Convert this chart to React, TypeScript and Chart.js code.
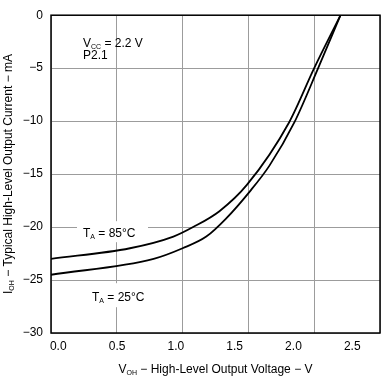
import React, { useEffect, useRef } from 'react';
import { Chart, registerables } from 'chart.js';

Chart.register(...registerables);

// Data (V_OH in volts, I_OH in mA)
const voltage85 = [0, 0.6, 0.93, 1.08, 1.28, 1.49, 1.81, 2.0, 2.2];
const current85 = [-23.0, -22.0, -20.9, -20.0, -18.5, -16.0, -10.1, -5.0, 0];
const voltage25 = [0, 0.78, 1.0, 1.18, 1.33, 1.51, 1.66, 1.85, 2.03, 2.2];
const current25 = [-24.5, -23.0, -22.0, -20.9, -19.2, -16.65, -14.2, -10.1, -5.0, 0];
const xTickLabels = ['0.0', '0.5', '1.0', '1.5', '2.0', '2.5'];
const xTickValues = [0, 0.5, 1.0, 1.5, 2.0, 2.5];
const yTickValues = [0, -5, -10, -15, -20, -25, -30];

const FONT = '"Liberation Sans", Arial, sans-serif';

type Part = [string, boolean];

function partsWidth(ctx: CanvasRenderingContext2D, parts: Part[]) {
  let w = 0;
  for (const [t, sub] of parts) {
    ctx.font = sub ? `7px ${FONT}` : `12px ${FONT}`;
    w += ctx.measureText(t).width;
  }
  return w;
}

function drawParts(ctx: CanvasRenderingContext2D, x: number, y: number, parts: Part[]) {
  let cx = x;
  ctx.textAlign = 'left';
  ctx.textBaseline = 'alphabetic';
  for (const [t, sub] of parts) {
    ctx.font = sub ? `7px ${FONT}` : `12px ${FONT}`;
    ctx.fillText(t, cx, sub ? y + 2 : y);
    cx += ctx.measureText(t).width;
  }
}

const annotationPlugin = {
  id: 'annotations',
  beforeDatasetsDraw(chart: any) {
    const { ctx, chartArea } = chart;
    const l = chartArea.left;
    const t = chartArea.top;
    ctx.save();
    ctx.fillStyle = '#ffffff';
    ctx.fillRect(l + 26, t + 206, 71, 21);
    ctx.fillRect(l + 26, t + 268, 82, 24);
    ctx.restore();
  },
  afterDraw(chart: any) {
    const { ctx, chartArea, height } = chart;
    const l = chartArea.left;
    const t = chartArea.top;
    ctx.save();
    ctx.fillStyle = '#000';
    drawParts(ctx, l + 32, t + 32, [['V', false], ['CC', true], [' = 2.2 V', false]]);
    drawParts(ctx, l + 32, t + 44, [['P2.1', false]]);
    drawParts(ctx, l + 32, t + 222, [['T', false], ['A', true], [' = 85°C', false]]);
    drawParts(ctx, l + 41, t + 286, [['T', false], ['A', true], [' = 25°C', false]]);

    // x title
    const xParts: Part[] = [['V', false], ['OH', true], [' − High-Level Output Voltage − V', false]];
    const xw = partsWidth(ctx, xParts);
    drawParts(ctx, (chartArea.left + chartArea.right) / 2 - xw / 2, height - 3, xParts);

    // y title
    const yParts: Part[] = [['I', false], ['OH', true], [' − Typical High-Level Output Current − mA', false]];
    const yw = partsWidth(ctx, yParts);
    ctx.translate(12, 174);
    ctx.rotate(-Math.PI / 2);
    drawParts(ctx, -yw / 2, 0, yParts);
    ctx.restore();

    // plot frame
    ctx.save();
    ctx.strokeStyle = '#000';
    ctx.lineWidth = 1.5;
    ctx.strokeRect(chartArea.left, chartArea.top, chartArea.right - chartArea.left, chartArea.bottom - chartArea.top);
    ctx.restore();
  },
};

export default function App() {
  const canvasRef = useRef<HTMLCanvasElement | null>(null);

  useEffect(() => {
    document.body.style.margin = '0';
    const canvas = canvasRef.current;
    if (!canvas) return;
    const chart = new Chart(canvas, {
      type: 'line',
      data: {
        datasets: [
          {
            label: 'TA = 85°C',
            data: voltage85.map((v, i) => ({ x: v, y: current85[i] })),
            borderColor: '#000',
            borderWidth: 1.8,
            pointRadius: 0,
            fill: false,
            cubicInterpolationMode: 'monotone',
            xAxisID: 'x',
            yAxisID: 'y',
          },
          {
            label: 'TA = 25°C',
            data: voltage25.map((v, i) => ({ x: v, y: current25[i] })),
            borderColor: '#000',
            borderWidth: 1.8,
            pointRadius: 0,
            fill: false,
            cubicInterpolationMode: 'monotone',
            xAxisID: 'x',
            yAxisID: 'y',
          },
        ],
      },
      options: {
        responsive: false,
        animation: false,
        events: [],
        layout: { padding: { top: 4, right: 2, left: 0, bottom: 0 } },
        plugins: { legend: { display: false }, tooltip: { enabled: false }, title: { display: false } },
        scales: {
          x: {
            type: 'linear',
            position: 'bottom',
            min: 0,
            max: 2.5,
            ticks: { display: false, stepSize: 0.5 },
            grid: { color: '#9c9c9c', lineWidth: 1, drawTicks: false },
            border: { display: false },
          },
          xl: {
            type: 'linear',
            position: 'bottom',
            min: -0.062,
            max: 2.736,
            afterBuildTicks: (scale: any) => {
              scale.ticks = xTickValues.map((v) => ({ value: v }));
            },
            afterFit: (scale: any) => {
              scale.height = 43;
            },
            ticks: {
              color: '#000',
              font: { family: FONT, size: 12 },
              padding: 6,
              maxRotation: 0,
              autoSkip: false,
              callback: (_v: any, i: number) => xTickLabels[i],
            },
            grid: { display: false, drawTicks: false },
            border: { display: false },
          },
          y: {
            type: 'linear',
            min: -30,
            max: 0,
            afterBuildTicks: (scale: any) => {
              scale.ticks = yTickValues.map((v) => ({ value: v }));
            },
            afterFit: (scale: any) => {
              scale.width = 51;
            },
            ticks: {
              color: '#000',
              font: { family: FONT, size: 12 },
              padding: 8,
              callback: (v: any) => (Number(v) === 0 ? '0' : '−' + Math.abs(Number(v))),
            },
            grid: { color: '#9c9c9c', lineWidth: 1, drawTicks: false },
            border: { display: false },
          },
        },
      },
      plugins: [annotationPlugin],
    } as any);
    return () => chart.destroy();
  }, []);

  return (
    <div style={{ width: 382, height: 376 }}>
      <canvas ref={canvasRef} width={382} height={376} style={{ display: 'block' }} />
    </div>
  );
}
